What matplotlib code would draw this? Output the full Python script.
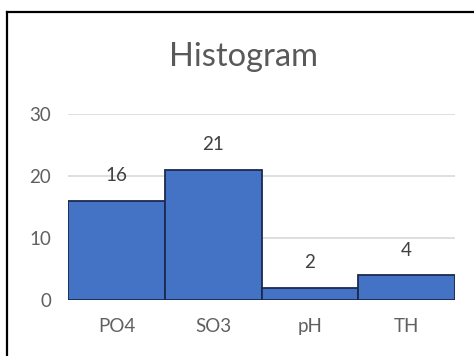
import matplotlib
matplotlib.use("Agg")
import matplotlib.pyplot as plt
from matplotlib.lines import Line2D

categories = ["PO4", "SO3", "pH", "TH"]
counts = [16, 21, 2, 4]
y_ticks = [0, 10, 20, 30]

plt.rcParams['font.family'] = ['Lato', 'DejaVu Sans']

fig = plt.figure(figsize=(4.74, 3.56), dpi=100)
fig.patch.set_facecolor("white")
ax = fig.add_axes([0.1435, 0.1573, 0.8165, 0.5225])

x = list(range(len(categories)))
bars = ax.bar(x, counts, width=1.0, color="#4472C4", edgecolor="#1a2a4f",
              linewidth=1.3, zorder=3)

for xi, v in zip(x, counts):
    ax.annotate(str(v), (xi, v), xytext=(0, 18), textcoords="offset points",
                ha="center", va="center", fontsize=13.5, color="#404040")

ax.set_xlim(-0.5, len(categories) - 0.5)
ax.set_ylim(0, 30)
ax.set_yticks(y_ticks)
ax.set_xticks(x)
ax.set_xticklabels(categories)
ax.yaxis.grid(True, color="#d9d9d9", linewidth=1.2, zorder=0)
ax.set_axisbelow(True)
for s in ax.spines.values():
    s.set_visible(False)
ax.tick_params(axis="both", length=0, labelsize=13.5, labelcolor="#606060")
ax.tick_params(axis="y", pad=12)
ax.tick_params(axis="x", pad=13)

fig.text(0.513, 0.84, "Histogram", ha="center", va="center",
         fontsize=23.5, color="#595959")

# frame lines along the top and left edges
fig.add_artist(Line2D([7 / 474, 1.0], [1 - 12 / 356, 1 - 12 / 356],
                      transform=fig.transFigure, color="black", linewidth=1.6))
fig.add_artist(Line2D([7 / 474, 7 / 474], [0.0, 1 - 12 / 356],
                      transform=fig.transFigure, color="black", linewidth=1.6))

fig.savefig("out.png", dpi=100, facecolor="white")
